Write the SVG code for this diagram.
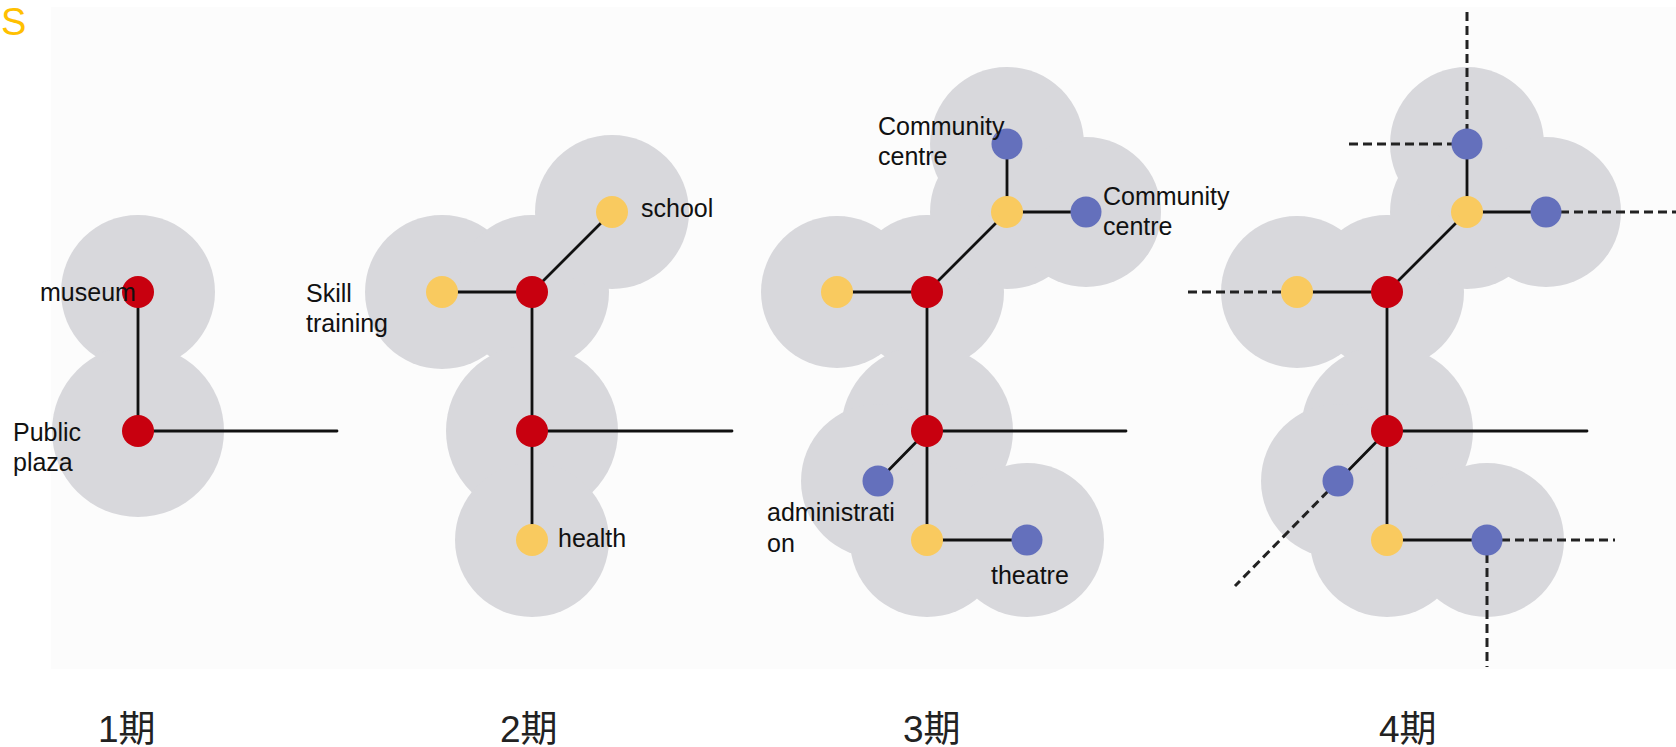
<svg xmlns="http://www.w3.org/2000/svg" width="1676" height="747" viewBox="0 0 1676 747">
<style>
.zone{fill:#d8d8dc}
.ln{stroke:#111;stroke-width:2.8;fill:none;stroke-linecap:round}
.dash{stroke:#222;stroke-width:3;fill:none;stroke-dasharray:9 5}
.red{fill:#c8000f}
.yel{fill:#f9ca5f}
.blu{fill:#6470bc}
.lbl{font-family:"Liberation Sans",Arial,sans-serif;font-size:25px;fill:#111}
.ph{font-family:"Liberation Sans","Noto Sans CJK SC",sans-serif;font-size:37px;fill:#222}
</style>
<rect x="0" y="0" width="1676" height="747" fill="#ffffff"/>
<rect x="51" y="7" width="1625" height="662" fill="#fcfcfc"/>
<text x="1" y="35" font-family="Liberation Sans,Arial,sans-serif" font-size="38" fill="#ffc000">S</text>

<g id="zones">
  <g id="zones-1">
    <circle class="zone" cx="138" cy="292" r="77"/>
    <circle class="zone" cx="138" cy="431" r="86"/>
  </g>
  <g id="zones-2">
    <circle class="zone" cx="442" cy="292" r="77"/>
    <circle class="zone" cx="532" cy="292" r="77"/>
    <circle class="zone" cx="612" cy="212" r="77"/>
    <circle class="zone" cx="532" cy="431" r="86"/>
    <circle class="zone" cx="532" cy="540" r="77"/>
  </g>
  <g id="zones-3">
    <circle class="zone" cx="837" cy="292" r="76"/>
    <circle class="zone" cx="927" cy="292" r="77"/>
    <circle class="zone" cx="1007" cy="212" r="77"/>
    <circle class="zone" cx="1007" cy="144" r="77"/>
    <circle class="zone" cx="1086" cy="212" r="75"/>
    <circle class="zone" cx="927" cy="431" r="86"/>
    <circle class="zone" cx="878" cy="481" r="77"/>
    <circle class="zone" cx="927" cy="540" r="77"/>
    <circle class="zone" cx="1027" cy="540" r="77"/>
  </g>
  <g id="zones-4">
    <circle class="zone" cx="1297" cy="292" r="76"/>
    <circle class="zone" cx="1387" cy="292" r="77"/>
    <circle class="zone" cx="1467" cy="212" r="77"/>
    <circle class="zone" cx="1467" cy="144" r="77"/>
    <circle class="zone" cx="1546" cy="212" r="75"/>
    <circle class="zone" cx="1387" cy="431" r="86"/>
    <circle class="zone" cx="1338" cy="481" r="77"/>
    <circle class="zone" cx="1387" cy="540" r="77"/>
    <circle class="zone" cx="1487" cy="540" r="77"/>
  </g>
</g>

<g id="connectors">
  <line class="ln" x1="138" y1="292" x2="138" y2="431"/>
  <line class="ln" x1="138" y1="431" x2="337" y2="431"/>

  <line class="ln" x1="442" y1="292" x2="532" y2="292"/>
  <line class="ln" x1="532" y1="292" x2="612" y2="212"/>
  <line class="ln" x1="532" y1="292" x2="532" y2="540"/>
  <line class="ln" x1="532" y1="431" x2="732" y2="431"/>

  <line class="ln" x1="837" y1="292" x2="927" y2="292"/>
  <line class="ln" x1="927" y1="292" x2="1007" y2="212"/>
  <line class="ln" x1="1007" y1="212" x2="1007" y2="144"/>
  <line class="ln" x1="1007" y1="212" x2="1086" y2="212"/>
  <line class="ln" x1="927" y1="292" x2="927" y2="540"/>
  <line class="ln" x1="927" y1="431" x2="1126" y2="431"/>
  <line class="ln" x1="927" y1="431" x2="878" y2="481"/>
  <line class="ln" x1="927" y1="540" x2="1027" y2="540"/>

  <line class="ln" x1="1297" y1="292" x2="1387" y2="292"/>
  <line class="ln" x1="1387" y1="292" x2="1467" y2="212"/>
  <line class="ln" x1="1467" y1="212" x2="1467" y2="144"/>
  <line class="ln" x1="1467" y1="212" x2="1546" y2="212"/>
  <line class="ln" x1="1387" y1="292" x2="1387" y2="540"/>
  <line class="ln" x1="1387" y1="431" x2="1587" y2="431"/>
  <line class="ln" x1="1387" y1="431" x2="1338" y2="481"/>
  <line class="ln" x1="1387" y1="540" x2="1487" y2="540"/>

  <line class="dash" x1="1467" y1="12" x2="1467" y2="144"/>
  <line class="dash" x1="1349" y1="144" x2="1467" y2="144"/>
  <line class="dash" x1="1546" y1="212" x2="1676" y2="212"/>
  <line class="dash" x1="1188" y1="292" x2="1297" y2="292"/>
  <line class="dash" x1="1338" y1="481" x2="1235" y2="586"/>
  <line class="dash" x1="1487" y1="540" x2="1615" y2="540"/>
  <line class="dash" x1="1487" y1="540" x2="1487" y2="667"/>
</g>

<g id="phase1">
  <g id="p1-museum"><circle class="red" cx="138" cy="292" r="16"/><text class="lbl" x="40" y="301">museum</text></g>
  <g id="p1-plaza"><circle class="red" cx="138" cy="431" r="16"/><text class="lbl" x="13" y="441">Public</text><text class="lbl" x="13" y="471">plaza</text></g>
</g>

<g id="phase2">
  <g id="p2-skill"><circle class="yel" cx="442" cy="292" r="16"/><text class="lbl" x="306" y="302">Skill</text><text class="lbl" x="306" y="332">training</text></g>
  <g id="p2-museum"><circle class="red" cx="532" cy="292" r="16"/></g>
  <g id="p2-school"><circle class="yel" cx="612" cy="212" r="16"/><text class="lbl" x="641" y="217">school</text></g>
  <g id="p2-plaza"><circle class="red" cx="532" cy="431" r="16"/></g>
  <g id="p2-health"><circle class="yel" cx="532" cy="540" r="16"/><text class="lbl" x="558" y="547">health</text></g>
</g>

<g id="phase3">
  <g id="p3-skill"><circle class="yel" cx="837" cy="292" r="16"/></g>
  <g id="p3-museum"><circle class="red" cx="927" cy="292" r="16"/></g>
  <g id="p3-school"><circle class="yel" cx="1007" cy="212" r="16"/></g>
  <g id="p3-community1"><circle class="blu" cx="1007" cy="144" r="15.5"/><text class="lbl" x="878" y="135">Community</text><text class="lbl" x="878" y="165">centre</text></g>
  <g id="p3-community2"><circle class="blu" cx="1086" cy="212" r="15.5"/><text class="lbl" x="1103" y="205">Community</text><text class="lbl" x="1103" y="235">centre</text></g>
  <g id="p3-plaza"><circle class="red" cx="927" cy="431" r="16"/></g>
  <g id="p3-admin"><circle class="blu" cx="878" cy="481" r="15.5"/><text class="lbl" x="767" y="521">administrati</text><text class="lbl" x="767" y="552">on</text></g>
  <g id="p3-health"><circle class="yel" cx="927" cy="540" r="16"/></g>
  <g id="p3-theatre"><circle class="blu" cx="1027" cy="540" r="15.5"/><text class="lbl" x="991" y="584">theatre</text></g>
</g>

<g id="phase4">
  <g id="p4-skill"><circle class="yel" cx="1297" cy="292" r="16"/></g>
  <g id="p4-museum"><circle class="red" cx="1387" cy="292" r="16"/></g>
  <g id="p4-school"><circle class="yel" cx="1467" cy="212" r="16"/></g>
  <g id="p4-community1"><circle class="blu" cx="1467" cy="144" r="15.5"/></g>
  <g id="p4-community2"><circle class="blu" cx="1546" cy="212" r="15.5"/></g>
  <g id="p4-plaza"><circle class="red" cx="1387" cy="431" r="16"/></g>
  <g id="p4-admin"><circle class="blu" cx="1338" cy="481" r="15.5"/></g>
  <g id="p4-health"><circle class="yel" cx="1387" cy="540" r="16"/></g>
  <g id="p4-theatre"><circle class="blu" cx="1487" cy="540" r="15.5"/></g>
</g>

<g id="phase-labels">
  <text class="ph" x="98" y="742">1期</text>
  <text class="ph" x="500" y="742">2期</text>
  <text class="ph" x="903" y="742">3期</text>
  <text class="ph" x="1379" y="742">4期</text>
</g>
</svg>
